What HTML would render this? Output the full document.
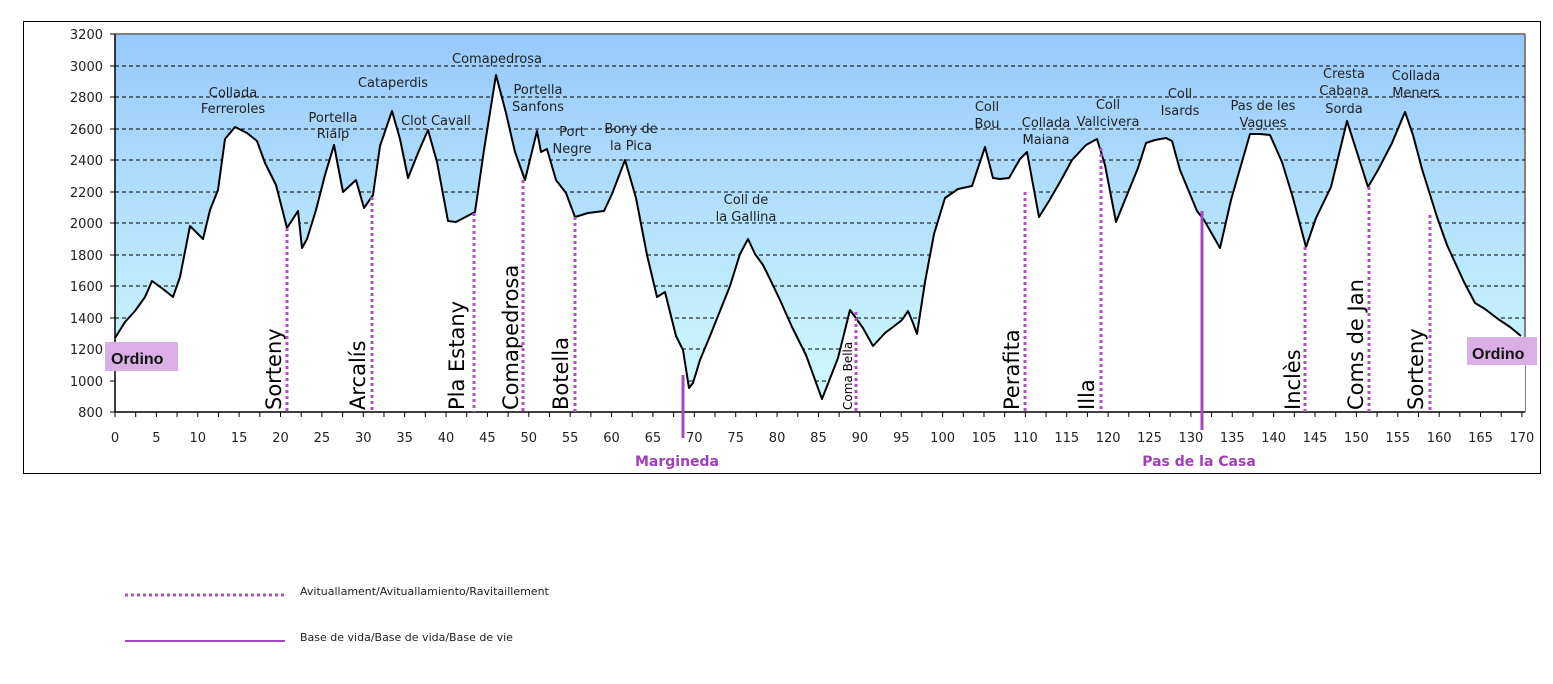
<!DOCTYPE html>
<html><head><meta charset="utf-8"><style>
body{margin:0;background:#fff;}
svg text{font-family:"DejaVu Sans","Liberation Sans",sans-serif;}
</style></head><body>
<svg width="1553" height="679" viewBox="0 0 1553 679" xmlns="http://www.w3.org/2000/svg">
<defs>
<linearGradient id="g" x1="0" y1="0" x2="0" y2="1">
<stop offset="0" stop-color="#97c9fb"/><stop offset="1" stop-color="#d2fbfd"/>
</linearGradient>
</defs>
<rect x="23.5" y="21.5" width="1517" height="452" fill="#fff" stroke="#000" stroke-width="1"/>
<rect x="115" y="34" width="1410" height="378" fill="url(#g)"/>
<line x1="115" y1="34" x2="1525" y2="34" stroke="#808080" stroke-width="2"/>
<line x1="1525" y1="34" x2="1525" y2="412" stroke="#808080" stroke-width="2"/>
<g stroke="#000" stroke-width="1" stroke-dasharray="4,3">
<line x1="115" y1="66" x2="1525" y2="66"/><line x1="115" y1="97" x2="1525" y2="97"/>
<line x1="115" y1="129" x2="1525" y2="129"/><line x1="115" y1="160" x2="1525" y2="160"/>
<line x1="115" y1="192" x2="1525" y2="192"/><line x1="115" y1="223" x2="1525" y2="223"/>
<line x1="115" y1="255" x2="1525" y2="255"/><line x1="115" y1="286" x2="1525" y2="286"/>
<line x1="115" y1="318" x2="1525" y2="318"/><line x1="115" y1="349" x2="1525" y2="349"/>
<line x1="115" y1="381" x2="1525" y2="381"/>
</g>
<polygon fill="#fff" points="115,412 115,338 125,322 135,311 145,297 152,281 163,289 173,297 180,277 190,226 203,239 210,210 218,190 225,139 235,127 247,133 257,141 265,163 276,185 287,228 298,211 302,248 307,239 316,210 325,175 334,145 343,192 356,180 364,208 373,195 380,146 392,111 400,139 408,178 418,153 428,130 437,162 448,221 456,222 475,212 484,150 496,75 506,113 515,152 525,180 537,131 541,152 547,149 556,180 566,193 575,217 588,213 604,211 612,194 625,160 636,198 647,255 657,297 665,292 676,336 683,350 689,388 693,383 700,360 710,336 720,311 730,286 740,254 748,239 755,254 763,265 768,275 780,300 792,327 806,355 822,399 838,358 850,310 863,328 873,346 885,333 893,327 902,320 908,311 913,323 917,334 925,282 934,234 945,198 958,189 972,186 985,147 993,178 1000,179 1009,178 1020,159 1027,152 1039,217 1049,201 1060,182 1072,160 1086,145 1097,139 1105,165 1116,222 1129,190 1138,168 1146,143 1155,140 1166,138 1172,141 1180,170 1197,211 1204,220 1220,248 1231,200 1250,134 1260,134 1270,135 1282,162 1293,198 1306,247 1316,218 1331,187 1347,121 1368,187 1378,170 1392,143 1405,112 1413,135 1422,169 1437,217 1447,245 1464,282 1475,303 1485,309 1498,319 1510,327 1521,336 1525,338 1525,412"/>
<polyline fill="none" stroke="#000" stroke-width="2" stroke-linejoin="round" points="115,338 125,322 135,311 145,297 152,281 163,289 173,297 180,277 190,226 203,239 210,210 218,190 225,139 235,127 247,133 257,141 265,163 276,185 287,228 298,211 302,248 307,239 316,210 325,175 334,145 343,192 356,180 364,208 373,195 380,146 392,111 400,139 408,178 418,153 428,130 437,162 448,221 456,222 475,212 484,150 496,75 506,113 515,152 525,180 537,131 541,152 547,149 556,180 566,193 575,217 588,213 604,211 612,194 625,160 636,198 647,255 657,297 665,292 676,336 683,350 689,388 693,383 700,360 710,336 720,311 730,286 740,254 748,239 755,254 763,265 768,275 780,300 792,327 806,355 822,399 838,358 850,310 863,328 873,346 885,333 893,327 902,320 908,311 913,323 917,334 925,282 934,234 945,198 958,189 972,186 985,147 993,178 1000,179 1009,178 1020,159 1027,152 1039,217 1049,201 1060,182 1072,160 1086,145 1097,139 1105,165 1116,222 1129,190 1138,168 1146,143 1155,140 1166,138 1172,141 1180,170 1197,211 1204,220 1220,248 1231,200 1250,134 1260,134 1270,135 1282,162 1293,198 1306,247 1316,218 1331,187 1347,121 1368,187 1378,170 1392,143 1405,112 1413,135 1422,169 1437,217 1447,245 1464,282 1475,303 1485,309 1498,319 1510,327 1521,336"/>
<!-- axes -->
<line x1="115" y1="34" x2="115" y2="412" stroke="#000" stroke-width="1.5"/>
<line x1="115" y1="412" x2="1525" y2="412" stroke="#000" stroke-width="1.5"/>
<g stroke="#000" stroke-width="1">
<line x1="110" y1="34" x2="115" y2="34"/><line x1="110" y1="66" x2="115" y2="66"/><line x1="110" y1="97" x2="115" y2="97"/><line x1="110" y1="129" x2="115" y2="129"/><line x1="110" y1="160" x2="115" y2="160"/><line x1="110" y1="192" x2="115" y2="192"/><line x1="110" y1="223" x2="115" y2="223"/><line x1="110" y1="255" x2="115" y2="255"/><line x1="110" y1="286" x2="115" y2="286"/><line x1="110" y1="318" x2="115" y2="318"/><line x1="110" y1="349" x2="115" y2="349"/><line x1="110" y1="381" x2="115" y2="381"/><line x1="110" y1="412" x2="115" y2="412"/>
</g>
<g id="xt" stroke="#000" stroke-width="1"></g>
<g font-size="13" fill="#222" text-anchor="end">
<text x="103" y="39">3200</text><text x="103" y="71">3000</text><text x="103" y="102">2800</text><text x="103" y="134">2600</text><text x="103" y="165">2400</text><text x="103" y="197">2200</text><text x="103" y="228">2000</text><text x="103" y="260">1800</text><text x="103" y="291">1600</text><text x="103" y="323">1400</text><text x="103" y="354">1200</text><text x="103" y="386">1000</text><text x="103" y="417">800</text>
</g>
<g font-size="13" fill="#222" text-anchor="middle" id="xl"></g>
<!-- markers -->
<g stroke="#b04fc0" stroke-width="3" stroke-dasharray="3,3">
<line x1="287" y1="228" x2="287" y2="412"/><line x1="372" y1="197" x2="372" y2="412"/><line x1="474" y1="213" x2="474" y2="412"/><line x1="523" y1="180" x2="523" y2="412"/><line x1="575" y1="217" x2="575" y2="412"/><line x1="856" y1="312" x2="856" y2="412"/><line x1="1025" y1="192" x2="1025" y2="412"/><line x1="1101" y1="148" x2="1101" y2="412"/><line x1="1305" y1="247" x2="1305" y2="412"/><line x1="1369" y1="187" x2="1369" y2="412"/><line x1="1430" y1="215" x2="1430" y2="412"/>
</g>
<g stroke="#a848c0" stroke-width="3">
<line x1="683" y1="375" x2="683" y2="438"/><line x1="1202" y1="211" x2="1202" y2="430"/>
</g>
<g font-size="21" fill="#000">
<text transform="translate(281,410) rotate(-90)">Sorteny</text>
<text transform="translate(365,410) rotate(-90)">Arcalís</text>
<text transform="translate(464,410) rotate(-90)">Pla Estany</text>
<text transform="translate(518,410) rotate(-90)">Comapedrosa</text>
<text transform="translate(568,410) rotate(-90)">Botella</text>
<text transform="translate(1019,410) rotate(-90)">Perafita</text>
<text transform="translate(1094,410) rotate(-90)">Illa</text>
<text transform="translate(1300,410) rotate(-90)">Inclès</text>
<text transform="translate(1363,410) rotate(-90)">Coms de Jan</text>
<text transform="translate(1423,410) rotate(-90)">Sorteny</text>
<text transform="translate(852,410) rotate(-90)" font-size="12">Coma Bella</text>
</g>
<g font-size="13" fill="#222" text-anchor="middle">
<text x="233" y="97">Collada</text><text x="233" y="113">Ferreroles</text>
<text x="333" y="122">Portella</text><text x="333" y="138">Rialp</text>
<text x="393" y="87">Cataperdis</text>
<text x="436" y="125">Clot Cavall</text>
<text x="497" y="63">Comapedrosa</text>
<text x="538" y="94">Portella</text><text x="538" y="111">Sanfons</text>
<text x="572" y="136">Port</text><text x="572" y="153">Negre</text>
<text x="631" y="133">Bony de</text><text x="631" y="150">la Pica</text>
<text x="746" y="204">Coll de</text><text x="746" y="221">la Gallina</text>
<text x="987" y="111">Coll</text><text x="987" y="128">Bou</text>
<text x="1046" y="127">Collada</text><text x="1046" y="144">Maiana</text>
<text x="1108" y="109">Coll</text><text x="1108" y="126">Vallcivera</text>
<text x="1180" y="98">Coll</text><text x="1180" y="115">Isards</text>
<text x="1263" y="110">Pas de les</text><text x="1263" y="127">Vagues</text>
<text x="1344" y="78">Cresta</text><text x="1344" y="95">Cabana</text><text x="1344" y="113">Sorda</text>
<text x="1416" y="80">Collada</text><text x="1416" y="97">Meners</text>
</g>
<rect x="105" y="342" width="73" height="29" fill="#dcaee6"/>
<text x="111" y="364" font-size="16" fill="#111" font-weight="bold" style="font-family:'Liberation Sans',sans-serif">Ordino</text>
<rect x="1467" y="337" width="70" height="28" fill="#dcaee6"/>
<text x="1472" y="359" font-size="16" fill="#111" font-weight="bold" style="font-family:'Liberation Sans',sans-serif">Ordino</text>
<g font-size="14" fill="#a040b8" font-weight="bold" text-anchor="middle">
<text x="677" y="466">Margineda</text><text x="1199" y="466">Pas de la Casa</text>
</g>
<line x1="125" y1="595" x2="285" y2="595" stroke="#b04fc0" stroke-width="3" stroke-dasharray="3,3"/>
<line x1="125" y1="641" x2="285" y2="641" stroke="#a848c0" stroke-width="2"/>
<g font-size="11" fill="#222">
<text x="300" y="595">Avituallament/Avituallamiento/Ravitaillement</text>
<text x="300" y="641">Base de vida/Base de vida/Base de vie</text>
</g>
</svg>
<script>
var t=document.getElementById('xt'),l=document.getElementById('xl'),ns='http://www.w3.org/2000/svg';
for(var k=0;k<=170;k+=2.5){var x=115+k*8.276;var ln=document.createElementNS(ns,'line');ln.setAttribute('x1',x);ln.setAttribute('x2',x);ln.setAttribute('y1',412);ln.setAttribute('y2',417);t.appendChild(ln);
if(k%5==0){var tx=document.createElementNS(ns,'text');tx.setAttribute('x',x);tx.setAttribute('y',442);tx.textContent=k;l.appendChild(tx);}}
</script>
</body></html>
